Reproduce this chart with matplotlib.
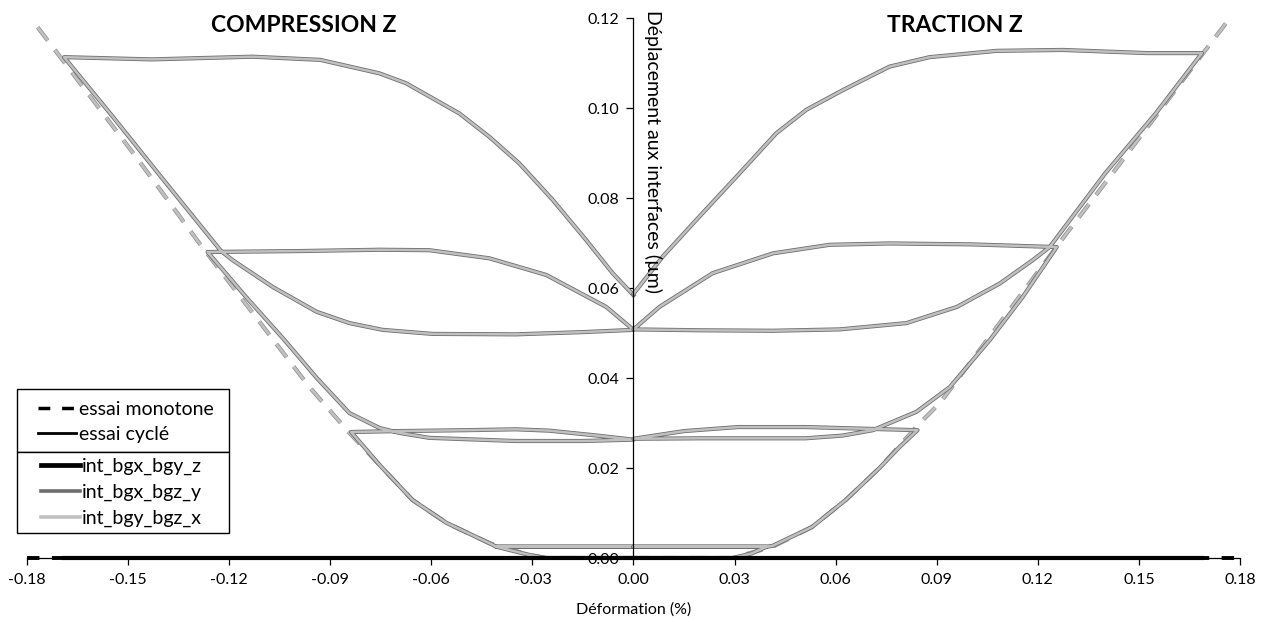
import matplotlib
matplotlib.use('Agg')
import matplotlib.pyplot as plt
from matplotlib.lines import Line2D
from matplotlib.patches import Rectangle

plt.rcParams['font.family'] = ['Lato', 'DejaVu Sans']
plt.rcParams['axes.unicode_minus'] = False

# essai monotone (enveloppe), compression puis traction
mono_comp_x = [0.0, -0.026, -0.031, -0.0428, -0.0555, -0.0656, -0.0754, -0.0843, -0.0962, -0.11, -0.1289, -0.1476, -0.1773]
mono_comp_y = [0.0, 0.0, 0.0007, 0.0033, 0.0078, 0.0129, 0.0207, 0.0278, 0.038, 0.0515, 0.070, 0.0891, 0.1184]
mono_trac_x = [0.0, 0.0294, 0.0413, 0.053, 0.063, 0.073, 0.085, 0.0909, 0.0998, 0.1286, 0.1423, 0.1702, 0.1761]
mono_trac_y = [0.0, 0.0, 0.0025, 0.0069, 0.0129, 0.020, 0.030, 0.0344, 0.0433, 0.0722, 0.0856, 0.1133, 0.1191]

# essai cyclé - compression (chemin complet charge / décharge)
cyc_comp_x = [0.0, -0.01, -0.02, -0.026, -0.031, -0.0407, 0.0, -0.0407,
              -0.0428, -0.0555, -0.0656, -0.0754, -0.0838,
              -0.07, -0.05, -0.035, -0.025, -0.012, 0.0,
              -0.015, -0.035, -0.0606, -0.0695, -0.0754, -0.0843, -0.094, -0.104, -0.115, -0.1264,
              -0.10, -0.0754, -0.0606, -0.0428, -0.0259, -0.0081, 0.0,
              -0.015, -0.035, -0.0597, -0.0745, -0.0843, -0.094, -0.107, -0.119, -0.1224, -0.14, -0.155, -0.169,
              -0.143, -0.113, -0.093, -0.0754, -0.0675, -0.0517, -0.0428, -0.0339, -0.024, -0.0141, -0.0062, 0.0]
cyc_comp_y = [0.0, 0.0, 0.0, 0.0, 0.0007, 0.0025, 0.0025, 0.0025,
              0.0033, 0.0078, 0.0129, 0.0207, 0.0280,
              0.0282, 0.0284, 0.0286, 0.0283, 0.0273, 0.0263,
              0.0260, 0.0260, 0.0267, 0.0278, 0.0289, 0.0322, 0.0400, 0.0488, 0.0580, 0.0680,
              0.0682, 0.0685, 0.0684, 0.0666, 0.0629, 0.0558, 0.0507,
              0.0502, 0.0497, 0.0498, 0.0507, 0.0522, 0.0547, 0.0602, 0.0662, 0.0682, 0.0845, 0.0985, 0.1113,
              0.1108, 0.1114, 0.1107, 0.1077, 0.1055, 0.0988, 0.0936, 0.0877, 0.0796, 0.0707, 0.0633, 0.0584]

# essai cyclé - traction
cyc_trac_x = [0.0, 0.01, 0.02, 0.0294, 0.035, 0.0395, 0.0, 0.0395,
              0.0413, 0.053, 0.063, 0.073, 0.079, 0.0843,
              0.07, 0.051, 0.031, 0.015, 0.0,
              0.02, 0.051, 0.062, 0.071, 0.084, 0.0939, 0.1057, 0.1155, 0.1256,
              0.10, 0.076, 0.0582, 0.0414, 0.0235, 0.0077, 0.0,
              0.02, 0.0413, 0.0612, 0.081, 0.096, 0.1087, 0.1185, 0.1235, 0.14, 0.155, 0.1687,
              0.1524, 0.1274, 0.1078, 0.0879, 0.076, 0.0622, 0.0513, 0.0424, 0.0315, 0.0186, 0.0087, 0.0]
cyc_trac_y = [0.0, 0.0, 0.0, 0.0, 0.001, 0.0025, 0.0025, 0.0025,
              0.0027, 0.0069, 0.0129, 0.020, 0.0247, 0.0284,
              0.0287, 0.0291, 0.0291, 0.0282, 0.0265,
              0.0266, 0.0266, 0.0272, 0.0284, 0.0325, 0.0380, 0.0484, 0.0580, 0.0691,
              0.0697, 0.0699, 0.0696, 0.0677, 0.0633, 0.0558, 0.0508,
              0.0506, 0.0505, 0.0508, 0.0522, 0.0558, 0.0610, 0.0662, 0.0691, 0.0855, 0.0988, 0.1122,
              0.1122, 0.1129, 0.1127, 0.1113, 0.1092, 0.1040, 0.0996, 0.0944, 0.0855, 0.0751, 0.0670, 0.0587]

# int_bgx_bgy_z : nul partout (monotone et cyclé)
zero_mono_x = [-0.18, 0.18]
zero_mono_y = [0.0, 0.0]
zero_cyc_x = [-0.169, 0.1687]
zero_cyc_y = [0.0, 0.0]

x_ticks = [-0.18, -0.15, -0.12, -0.09, -0.06, -0.03, 0.0, 0.03, 0.06, 0.09, 0.12, 0.15, 0.18]
y_ticks = [0.0, 0.02, 0.04, 0.06, 0.08, 0.10, 0.12]

c_z = 'black'
c_y = '#6e6e6e'
c_x = '#c0c0c0'

W, H = 1268, 622
fig = plt.figure(figsize=(W/100, H/100), dpi=100)
ax = fig.add_axes([27/W, 1-558/H, (1240-27)/W, (558-18)/H])

# monotone (tirets)
for mx, my in [(mono_comp_x, mono_comp_y), (mono_trac_x, mono_trac_y)]:
    ax.plot(mx, my, color='#8c8c8c', lw=3.0, dashes=(4, 2.8))
    ax.plot(mx, my, color=c_x, lw=2.0, dashes=(6, 4.2))
ax.plot(zero_mono_x, zero_mono_y, color=c_z, lw=2.8, dashes=(3.2, 3.2), clip_on=False)

# cyclé
for cx, cy in [(cyc_comp_x, cyc_comp_y), (cyc_trac_x, cyc_trac_y)]:
    ax.plot(cx, cy, color=c_y, lw=3.0, solid_joinstyle='round')
    ax.plot(cx, cy, color=c_x, lw=1.8, solid_joinstyle='round')
ax.plot(zero_cyc_x, zero_cyc_y, color=c_z, lw=3.0, clip_on=False)

ax.set_xlim(-0.18, 0.18)
ax.set_ylim(0, 0.12)
ax.spines['top'].set_visible(False)
ax.spines['right'].set_visible(False)
ax.spines['left'].set_position(('data', 0))
ax.spines['left'].set_linewidth(0.9)
ax.spines['bottom'].set_linewidth(0.9)
ax.set_xticks(x_ticks)
ax.set_yticks(y_ticks)
ax.set_xticklabels(['%.2f' % v for v in x_ticks])
ax.set_yticklabels(['%.2f' % v for v in y_ticks])
ax.tick_params(axis='both', direction='out', length=5, width=0.9, labelsize=11.5, colors='black')
ax.tick_params(axis='x', pad=6)
ax.tick_params(axis='y', pad=5)
ax.set_xlabel('Déformation (%)', fontsize=11.5, labelpad=11)

ax.text(0.0030, 0.1218, 'Déplacement aux interfaces (µm)', rotation=-90,
        ha='left', va='top', fontsize=14)
ax.text(-0.098, 0.1184, 'COMPRESSION Z', fontsize=16.5, fontweight='bold', ha='center', va='center')
ax.text(0.0953, 0.1184, 'TRACTION Z', fontsize=16.5, fontweight='bold', ha='center', va='center')

# cadres des légendes (deux blocs accolés)
for top, bot in [(389, 452), (452, 533)]:
    ax.add_artist(Rectangle((17/W, 1-bot/H), 212/W, (bot-top)/H, transform=fig.transFigure,
                            facecolor='white', edgecolor='black', lw=1.0, zorder=5, clip_on=False))

h1 = [Line2D([], [], color='black', lw=2.5, dashes=(3.4, 3.4)),
      Line2D([], [], color='black', lw=2.0)]
leg1 = ax.legend(h1, ['essai monotone', 'essai cyclé'], loc='upper left',
                 bbox_to_anchor=(38/W, 1-401/H), bbox_transform=fig.transFigure,
                 borderaxespad=0, borderpad=0, frameon=False, fontsize=14, handlelength=1.95,
                 handletextpad=0.15, labelspacing=0.42)
leg1.set_zorder(7)
ax.add_artist(leg1)

h2 = [Line2D([], [], color=c_z, lw=3.4),
      Line2D([], [], color=c_y, lw=2.6),
      Line2D([], [], color=c_x, lw=2.6)]
leg2 = ax.legend(h2, ['int_bgx_bgy_z', 'int_bgx_bgz_y', 'int_bgy_bgz_x'], loc='upper left',
                 bbox_to_anchor=(41/W, 1-458/H), bbox_transform=fig.transFigure,
                 borderaxespad=0, borderpad=0, frameon=False, fontsize=14, handlelength=2.0,
                 handletextpad=0.1, labelspacing=0.45)
leg2.set_zorder(7)

fig.savefig('out.png', dpi=100)
